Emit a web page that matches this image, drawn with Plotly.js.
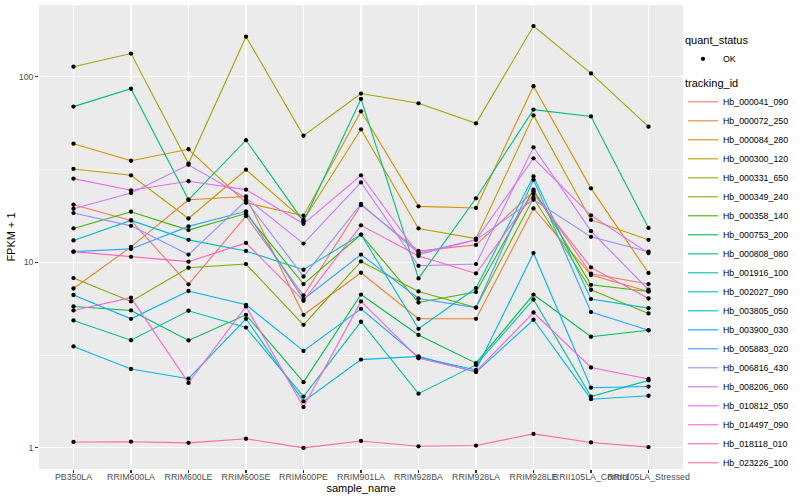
<!DOCTYPE html>
<html>
<head>
<meta charset="utf-8">
<script src="https://cdn.plot.ly/plotly-3.0.1.min.js"></script>
<style>html,body{margin:0;padding:0;background:#fff;}#chart{width:800px;height:500px;}</style>
</head>
<body>
<div id="chart"></div>
<script>
// ---- data (FPKM + 1) ----
const samples = ['PB350LA','RRIM600LA','RRIM600LE','RRIM600SE','RRIM600PE','RRIM901LA','RRIM928BA','RRIM928LA','RRIM928LE','RRII105LA_Control','RRII105LA_Stressed'];

const trackingIds = ['Hb_000041_090','Hb_000072_250','Hb_000084_280','Hb_000300_120','Hb_000331_650','Hb_000349_240','Hb_000358_140','Hb_000753_200','Hb_000808_080','Hb_001916_100','Hb_002027_090','Hb_003805_050','Hb_003900_030','Hb_005883_020','Hb_006816_430','Hb_008206_060','Hb_010812_050','Hb_014497_090','Hb_018118_010','Hb_023226_100'];

const hb_000041_090 = [20.4, 16.8, 7.6, 17.7, 6.62, 20.3, 11.5, 12.4, 24.1, 8.67, 7.63];
const hb_000072_250 = [7.22, 12.1, 21.7, 22.6, 5.21, 8.78, 4.96, 4.96, 19.5, 8.53, 6.96];
const hb_000084_280 = [43.5, 35.2, 40.6, 20.9, 17.8, 65.0, 20.0, 19.6, 88.7, 25.0, 8.75];
const hb_000300_120 = [31.8, 29.4, 17.2, 31.5, 16.9, 52.0, 15.2, 13.4, 61.8, 16.9, 13.2];
const hb_000331_650 = [113, 133, 34.0, 164, 48.0, 81.0, 71.8, 56.0, 187, 104, 53.7];
const hb_000349_240 = [8.22, 6.15, 9.34, 9.78, 4.6, 10.1, 6.96, 5.7, 22.2, 7.11, 5.3];
const hb_000358_140 = [15.2, 18.7, 14.9, 18.3, 7.63, 14.1, 6.07, 6.91, 24.6, 7.56, 6.96];
const hb_000753_200 = [5.78, 5.5, 3.79, 5.21, 2.26, 6.7, 4.06, 2.86, 6.7, 3.97, 4.3];
const hb_000808_080 = [68.9, 86.0, 21.7, 45.4, 16.6, 75.8, 8.18, 22.1, 66.4, 61.0, 15.3];
const hb_001916_100 = [4.86, 3.8, 5.48, 4.45, 1.89, 4.78, 1.96, 2.8, 6.3, 1.89, 2.31];
const hb_002027_090 = [13.1, 16.8, 13.2, 11.5, 9.11, 14.1, 4.38, 7.26, 29.0, 6.33, 5.66];
const hb_003805_050 = [3.52, 2.66, 2.36, 4.96, 1.78, 2.99, 3.11, 2.56, 4.9, 1.83, 1.91];
const hb_003900_030 = [6.66, 4.96, 7.0, 5.9, 3.33, 5.61, 3.08, 2.63, 11.2, 2.11, 2.14];
const hb_005883_020 = [11.4, 11.8, 15.6, 18.8, 6.33, 11.0, 6.38, 5.7, 27.8, 5.39, 4.3];
const hb_006816_430 = [18.4, 15.7, 11.0, 21.5, 8.38, 20.6, 11.2, 13.2, 21.7, 13.7, 11.4];
const hb_008206_060 = [19.4, 23.6, 33.5, 22.2, 12.6, 26.9, 9.57, 9.78, 41.6, 14.7, 7.11];
const hb_010812_050 = [28.2, 24.4, 27.3, 24.6, 16.1, 29.4, 11.0, 13.2, 36.3, 17.9, 11.2];
const hb_014497_090 = [5.5, 6.44, 2.24, 5.78, 1.66, 6.15, 3.04, 2.58, 5.36, 2.71, 2.35];
const hb_018118_010 = [11.4, 10.7, 10.07, 12.7, 6.2, 15.8, 10.8, 8.7, 23.3, 9.38, 6.38];
const hb_023226_100 = [1.077, 1.08, 1.065, 1.12, 1.0, 1.09, 1.02, 1.03, 1.19, 1.07, 1.01];

const seriesValues = [hb_000041_090, hb_000072_250, hb_000084_280, hb_000300_120, hb_000331_650, hb_000349_240, hb_000358_140, hb_000753_200, hb_000808_080, hb_001916_100, hb_002027_090, hb_003805_050, hb_003900_030, hb_005883_020, hb_006816_430, hb_008206_060, hb_010812_050, hb_014497_090, hb_018118_010, hb_023226_100];

const hueColors = ['#F8766D','#EA8331','#D89000','#C09B00','#A3A500','#7CAE00','#39B600','#00BB4E','#00BF7D','#00C1A3','#00BFC4','#00BAE0','#00B0F6','#35A2FF','#9590FF','#C77CFF','#E76BF3','#FA62DB','#FF62BC','#FF6C91'];

const quantStatus = ['OK'];
const yTickVals = [1, 10, 100];
const yTickText = ['1', '10', '100'];
const yMinorVals = [0.3162, 3.162, 31.62, 316.2];

// ---- traces ----
const traces = [];
trackingIds.forEach((id, i) => {
  traces.push({
    type: 'scatter', mode: 'lines', name: id,
    x: samples, y: seriesValues[i],
    line: {color: hueColors[i], width: 1.1},
    legend: 'legend', hoverinfo: 'x+y+name'
  });
});
const allX = [], allY = [];
seriesValues.forEach(v => v.forEach((y, j) => { allX.push(samples[j]); allY.push(y); }));
traces.push({
  type: 'scatter', mode: 'markers', name: quantStatus[0],
  x: allX, y: allY,
  marker: {color: '#000000', size: 4.3},
  legend: 'legend2'
});

// y range with ggplot-like 5% expansion in log space
const logs = allY.map(v => Math.log10(v));
const lo = Math.min(...logs), hi = Math.max(...logs);
const pad = 0.05 * (hi - lo);

const layout = {
  width: 800, height: 500,
  margin: {l: 39, r: 117, t: 5, b: 31},
  paper_bgcolor: '#FFFFFF',
  plot_bgcolor: '#EBEBEB',
  font: {family: 'Liberation Sans, Arial, sans-serif', color: '#000000'},
  xaxis: {
    type: 'category', range: [-0.6, samples.length - 0.4],
    tickmode: 'array', tickvals: samples, ticktext: samples, tickangle: 0,
    showgrid: true, gridcolor: '#FFFFFF', gridwidth: 1.07,
    zeroline: false, showline: false, automargin: false,
    ticks: 'outside', ticklen: 2.75, tickwidth: 1.07, tickcolor: '#333333',
    ticklabelstandoff: -3,
    tickfont: {size: 8.8, color: '#4D4D4D'},
    title: {text: 'sample_name', font: {size: 11, color: '#000000'}, standoff: 0}
  },
  yaxis: {
    type: 'log', range: [lo - pad, hi + pad],
    tickmode: 'array', tickvals: yTickVals, ticktext: yTickText,
    showgrid: true, gridcolor: '#FFFFFF', gridwidth: 1.07,
    minor: {tickmode: 'array', tickvals: yMinorVals, showgrid: true, gridcolor: '#FFFFFF', gridwidth: 0.53, ticks: ''},
    zeroline: false, showline: false, automargin: false,
    ticks: 'outside', ticklen: 2.75, tickwidth: 1.07, tickcolor: '#333333',
    tickfont: {size: 8.8, color: '#4D4D4D'},
    title: {text: 'FPKM + 1', font: {size: 11, color: '#000000'}, standoff: 0}
  },
  legend: {
    title: {text: 'tracking_id', font: {size: 11}},
    font: {size: 8.8, color: '#000000'},
    xref: 'container', yref: 'container',
    x: 683 / 800, xanchor: 'left', y: 1 - 73 / 500, yanchor: 'top',
    maxheight: 425,
    itemwidth: 30, bgcolor: 'rgba(0,0,0,0)', tracegroupgap: 0
  },
  legend2: {
    title: {text: 'quant_status', font: {size: 11}},
    font: {size: 8.8, color: '#000000'},
    xref: 'container', yref: 'container',
    x: 683 / 800, xanchor: 'left', y: 1 - 30 / 500, yanchor: 'top',
    maxheight: 60,
    itemwidth: 30, bgcolor: 'rgba(0,0,0,0)'
  },
  showlegend: true
};

Plotly.newPlot('chart', traces, layout, {displayModeBar: false, staticPlot: true});
</script>
</body>
</html>
